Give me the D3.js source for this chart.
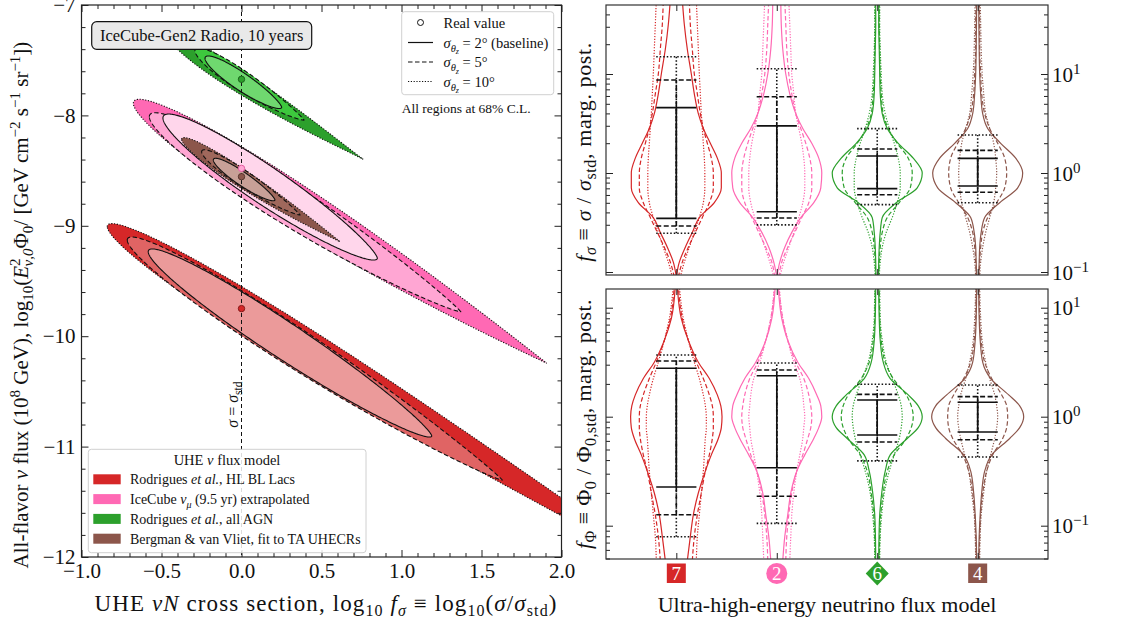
<!DOCTYPE html>
<html>
<head>
<meta charset="utf-8">
<script src="https://cdn.jsdelivr.net/npm/d3@7"></script>
<style>
  body { margin: 0; background: #fff; }
  svg text { font-family: "Liberation Serif", "DejaVu Serif", serif; fill: #111; }
</style>
</head>
<body>
<svg id="chart" width="1137" height="623"></svg>
<script>
// ---------------- data ----------------
const modelNames = ["Rodrigues et al., HL BL Lacs", "IceCube νμ (9.5 yr) extrapolated",
                    "Rodrigues et al., all AGN", "Bergman & van Vliet, fit to TA UHECRs"];
const modelIds = ["7", "2", "6", "4"];
const resolutions = ["2°", "5°", "10°"];           // angular resolution sigma_theta_z

// true (injected) values: log10 f_sigma and log10 flux at 1e8 GeV
const trueLogF = [0, 0, 0, 0];
const trueLogFlux = [-9.75, -8.48, -7.673, -8.555];

// 68% C.L. regions, per model, per resolution [2°, 5°, 10°]
// left / right extreme points (log10 f_sigma, log10 flux), vertical half-height, tail exponent
const regionLeftX  = [[-0.583, -0.714, -0.839], [-0.491, -0.576, -0.676], [-0.228, -0.291, -0.459], [-0.176, -0.249, -0.374]];
const regionLeftY  = [[-9.235, -9.129, -9.008], [-8.024, -8.012, -7.890], [-7.483, -7.414, -7.281], [-8.404, -8.329, -8.217]];
const regionRightX = [[1.189, 1.630, 2.866], [0.849, 1.370, 1.908], [0.251, 0.391, 0.761], [0.209, 0.366, 0.616]];
const regionRightY = [[-10.904, -11.303, -12.321], [-9.294, -9.778, -10.245], [-7.927, -8.042, -8.398], [-8.766, -8.902, -9.144]];
const regionHalfH  = [[0.195, 0.208, 0.212], [0.205, 0.215, 0.228], [0.094, 0.107, 0.117], [0.072, 0.086, 0.095]];
const regionTail   = [[0.6, 0.8, 1.3], [0.6, 0.8, 1.0], [0.6, 0.8, 1.1], [0.6, 0.8, 1.0]];

// marginal posteriors of f_sigma (density on a log10 f_sigma grid)
const gridSigma = [-1.05, -0.9, -0.75, -0.6, -0.45, -0.3, -0.15, 0, 0.15, 0.3, 0.45, 0.6, 0.8, 1.0, 1.25, 1.5, 1.75];
const postSigma = [
  [[0, 3, 9, 16, 23, 38, 45, 45, 41, 34, 27, 22, 18, 15, 11, 8, 6],
   [2, 6, 12, 19, 26, 33, 37, 37, 35, 31, 27, 24, 21, 18, 16, 14, 13],
   [4, 8, 13, 18, 23, 27, 28.5, 28.5, 28, 27, 26, 25, 24, 23, 22, 21, 20]],
  [[0, 3, 8, 15, 24, 37, 44, 45, 42, 35, 26, 19, 13, 9, 6, 4.5, 4],
   [2, 5, 11, 18, 25, 32, 35, 35, 33, 29, 24, 19, 15, 12, 10, 9, 8],
   [3, 7, 12, 17, 22, 26, 28, 28, 27, 25, 22, 19, 17, 15, 14, 13, 12]],
  [[1.2, 1.5, 2, 3, 5, 19, 40, 45, 36, 21, 10, 5, 3, 2.5, 2, 1.5, 1.5],
   [1.5, 2, 3, 5, 10, 22, 33, 35, 31, 20, 11, 6, 4, 3, 2.5, 2, 2],
   [2, 3, 5, 9, 15, 20, 23, 23, 21, 17, 12, 8, 5, 4, 3, 2.5, 2.5]],
  [[1, 1.5, 2, 3.5, 7, 22, 40, 45, 38, 23, 10, 5, 3, 2, 1.5, 1.2, 1],
   [1.5, 2, 3, 5, 10, 19, 27, 29, 27, 20, 12, 7, 4, 3, 2, 2, 1.5],
   [2, 3, 5, 8, 12, 16, 18, 19, 18, 16, 12, 8, 6, 4.5, 3.5, 3, 2.5]]
];
// 68% credible intervals of f_sigma [low, high]
const ciSigma = [
  [[0.348, 4.57], [0.292, 8.71], [0.246, 14.96]],
  [[0.406, 2.99], [0.351, 5.90], [0.299, 11.3]],
  [[0.695, 1.486], [0.604, 1.746], [0.479, 2.805]],
  [[0.740, 1.406], [0.638, 1.694], [0.501, 2.421]]
];

// marginal posteriors of f_Phi (density on a log10 f_Phi grid)
const gridPhi = [-1.32, -1.1, -0.9, -0.7, -0.5, -0.35, -0.2, -0.1, 0, 0.1, 0.2, 0.35, 0.5, 0.7, 0.9, 1.2];
const postPhi = [
  [[11, 14, 17, 22, 29, 35, 42, 45, 45.7, 44.5, 41, 33, 22, 12, 5, 1],
   [16, 18, 21, 25, 29, 33, 36, 37, 37, 36, 33, 27, 20, 12, 6, 2],
   [20, 21, 23, 25, 27, 28, 29, 30, 30, 29, 27, 23, 18, 12, 7, 3]],
  [[6, 8, 11, 14, 20, 28, 37, 42, 45, 44, 40, 32, 21, 11, 5, 1.5],
   [9, 10, 12, 15, 20, 26, 31, 34, 35, 34, 32, 27, 19, 11, 6, 2],
   [13, 14, 15, 17, 20, 23, 26, 27, 28, 27, 26, 23, 17, 11, 6, 2.5]],
  [[1.5, 1.8, 2.5, 4.5, 8, 13, 30, 41, 45, 41, 31, 13, 6, 3, 2, 1.5],
   [2, 2.5, 3.5, 6, 10, 17, 29, 34, 36, 34, 29, 16, 8, 4, 2.5, 2],
   [2.5, 3, 4.5, 7, 12, 17, 22, 24, 25, 24, 21, 15, 9, 5, 3, 2.5]],
  [[1, 1.5, 2.5, 4, 7, 14, 32, 42, 46, 42, 31, 13, 5, 2.5, 1.5, 1],
   [1.5, 2, 3, 5, 9, 15, 25, 29, 30, 29, 24, 14, 7, 3.5, 2, 1.5],
   [2, 2.5, 3.5, 6, 9, 13, 17, 19, 20, 19, 17, 12, 8, 4.5, 3, 2]]
];
const ciPhi = [
  [[0.2265, 2.78], [0.126, 3.24], [0.0793, 3.68]],
  [[0.340, 2.377], [0.186, 2.679], [0.105, 3.11]],
  [[0.679, 1.422], [0.586, 1.603], [0.393, 1.982]],
  [[0.724, 1.355], [0.615, 1.528], [0.427, 1.954]]
];

// tick values
const xTicksL = [-1, -0.5, 0, 0.5, 1, 1.5, 2];
const yTicksL = [-12, -11, -10, -9, -8, -7];
const logTicksR = [0.1, 1, 10];

// ---------------- styles ----------------
const baseColors = ["#d62728", "#ff69b4", "#2ca02c", "#8c564b"];
const regionFills = [
  ["#eb9a9a", "#e06464", "#d62728"],
  ["#ffd6eb", "#ffa6d3", "#ff69b4"],
  ["#6fd86f", "#3dc83d", "#2ca02c"],
  ["#c8a097", "#a0685c", "#8c564b"]
];
const dashFor = ["none", "4.5,2.5", "1.2,1.6"];
const badgeShapes = ["square", "circle", "diamond", "square"];

const svg = d3.select("#chart");
const defs = svg.append("defs");

function rich(sel, segs) {
  let cur = 0;
  segs.forEach(s => {
    const off = s.o || 0;
    const ts = sel.append("tspan").text(s.t);
    if (off !== cur) ts.attr("dy", -(off - cur));
    cur = off;
    if (s.i) ts.attr("font-style", "italic");
    if (s.s) ts.attr("font-size", s.s);
    if (s.dx) ts.attr("dx", s.dx);
  });
}

// ================= left panel =================
const PL = { x0: 81.5, x1: 561.5, y0: 5, y1: 557 };
const xL = d3.scaleLinear().domain([-1, 2]).range([PL.x0, PL.x1]);
const yL = d3.scaleLinear().domain([-12, -7]).range([PL.y1, PL.y0]);

defs.append("clipPath").attr("id", "clipL").append("rect")
  .attr("x", PL.x0).attr("y", PL.y0).attr("width", PL.x1 - PL.x0).attr("height", PL.y1 - PL.y0);

const gRegions = svg.append("g").attr("clip-path", "url(#clipL)");
const lineL = d3.line().x(d => xL(d[0])).y(d => yL(d[1]));

function regionPoints(m, r) {
  const xl = regionLeftX[m][r], yl = regionLeftY[m][r];
  const xr = regionRightX[m][r], yr = regionRightY[m][r];
  const hh = regionHalfH[m][r], a = 0.5, b = regionTail[m][r];
  const ts = a / (a + b), norm = Math.pow(ts, a) * Math.pow(1 - ts, b);
  const n = 200, up = [], lo = [];
  for (let k = 0; k <= n; k++) {
    const t = (1 - Math.cos(Math.PI * k / n)) / 2;
    const cx = xl + t * (xr - xl), cy = yl + t * (yr - yl);
    const w = hh * Math.pow(t, a) * Math.pow(1 - t, b) / norm;
    up.push([cx, cy + w]);
    lo.push([cx, cy - w]);
  }
  return up.concat(lo.reverse());
}

for (let m = 0; m < 4; m++) {
  for (let r = 2; r >= 0; r--) {
    gRegions.append("path")
      .attr("d", lineL(regionPoints(m, r)) + "Z")
      .attr("fill", regionFills[m][r])
      .attr("stroke", "#111")
      .attr("stroke-width", 1.1)
      .attr("stroke-dasharray", dashFor[r]);
  }
}

// sigma = sigma_std reference line
svg.append("line")
  .attr("x1", xL(0)).attr("x2", xL(0)).attr("y1", PL.y0).attr("y2", PL.y1)
  .attr("stroke", "#111").attr("stroke-width", 1).attr("stroke-dasharray", "4,3");
const refLbl = svg.append("text")
  .attr("transform", `translate(${xL(0) - 4},${yL(-10.62)}) rotate(-90)`)
  .attr("text-anchor", "middle").attr("font-size", 16);
rich(refLbl, [{ t: "σ", i: 1 }, { t: " = " }, { t: "σ", i: 1 }, { t: "std", o: -4, s: 11.5 }]);

// true values
for (let m = 0; m < 4; m++) {
  svg.append("circle")
    .attr("cx", xL(trueLogF[m])).attr("cy", yL(trueLogFlux[m])).attr("r", 3.2)
    .attr("fill", regionFills[m][m === 1 ? 1 : 2])
    .attr("stroke", d3.color(baseColors[m]).darker(m === 1 ? 0.3 : 1.3))
    .attr("stroke-width", 1);
}

// frame and ticks
function styleAxis(g, size) {
  g.select(".domain").remove();
  g.selectAll("line").attr("stroke", "#222");
  g.selectAll("text").attr("font-family", '"Liberation Serif", serif').attr("font-size", size).attr("fill", "#111");
}
const xMinorL = d3.range(-10, 21).map(d => d / 10).filter(d => Math.abs(d * 2 - Math.round(d * 2)) > 1e-6);
const yMinorL = d3.range(-60, -34).map(d => d / 5).filter(d => Math.abs(d - Math.round(d)) > 1e-6);

svg.append("g").attr("transform", `translate(0,${PL.y1})`)
  .call(d3.axisBottom(xL).tickValues(xTicksL).tickSizeInner(-7).tickSizeOuter(0).tickPadding(6).tickFormat(d3.format(".1f")))
  .call(g => styleAxis(g, 21));
svg.append("g").attr("transform", `translate(0,${PL.y1})`)
  .call(d3.axisBottom(xL).tickValues(xMinorL).tickSizeInner(-4).tickSizeOuter(0).tickFormat(""))
  .call(g => styleAxis(g, 21));
svg.append("g").attr("transform", `translate(0,${PL.y0})`)
  .call(d3.axisTop(xL).tickValues(xTicksL).tickSizeInner(-7).tickSizeOuter(0).tickFormat(""))
  .call(g => styleAxis(g, 21));
svg.append("g").attr("transform", `translate(0,${PL.y0})`)
  .call(d3.axisTop(xL).tickValues(xMinorL).tickSizeInner(-4).tickSizeOuter(0).tickFormat(""))
  .call(g => styleAxis(g, 21));
svg.append("g").attr("transform", `translate(${PL.x0},0)`)
  .call(d3.axisLeft(yL).tickValues(yTicksL).tickSizeInner(-7).tickSizeOuter(0).tickPadding(6).tickFormat(d3.format("d")))
  .call(g => styleAxis(g, 21));
svg.append("g").attr("transform", `translate(${PL.x0},0)`)
  .call(d3.axisLeft(yL).tickValues(yMinorL).tickSizeInner(-4).tickSizeOuter(0).tickFormat(""))
  .call(g => styleAxis(g, 21));
svg.append("g").attr("transform", `translate(${PL.x1},0)`)
  .call(d3.axisRight(yL).tickValues(yTicksL).tickSizeInner(-7).tickSizeOuter(0).tickFormat(""))
  .call(g => styleAxis(g, 21));
svg.append("g").attr("transform", `translate(${PL.x1},0)`)
  .call(d3.axisRight(yL).tickValues(yMinorL).tickSizeInner(-4).tickSizeOuter(0).tickFormat(""))
  .call(g => styleAxis(g, 21));
svg.append("rect").attr("x", PL.x0).attr("y", PL.y0).attr("width", PL.x1 - PL.x0).attr("height", PL.y1 - PL.y0)
  .attr("fill", "none").attr("stroke", "#222").attr("stroke-width", 1.2);

// title box
svg.append("rect").attr("x", 91.7).attr("y", 21.7).attr("width", 220).attr("height", 27.6).attr("rx", 5)
  .attr("fill", "#e9e9e9").attr("stroke", "#111").attr("stroke-width", 1.2);
svg.append("text").attr("x", 201.7).attr("y", 41).attr("text-anchor", "middle").attr("font-size", 16.5)
  .text("IceCube-Gen2 Radio, 10 years");

// line-style legend
const lg = svg.append("g");
lg.append("rect").attr("x", 401.7).attr("y", 11.7).attr("width", 152).attr("height", 83).attr("rx", 3)
  .attr("fill", "#fff").attr("fill-opacity", 0.85).attr("stroke", "#d0d0d0");
lg.append("circle").attr("cx", 420.5).attr("cy", 22.5).attr("r", 3).attr("fill", "none").attr("stroke", "#111");
lg.append("text").attr("x", 443.5).attr("y", 27.5).attr("font-size", 14.5).text("Real value");
resolutions.forEach((res, r) => {
  const y = 42.5 + r * 19.5;
  lg.append("line").attr("x1", 408).attr("x2", 433).attr("y1", y).attr("y2", y)
    .attr("stroke", "#111").attr("stroke-width", 1.2).attr("stroke-dasharray", dashFor[r]);
  const t = lg.append("text").attr("x", 443.5).attr("y", y + 5).attr("font-size", 14.5);
  rich(t, [{ t: "σ", i: 1 }, { t: "θ", i: 1, o: -4, s: 10.5 }, { t: "z", i: 1, o: -6.5, s: 8 },
           { t: " = " + res + (r === 0 ? " (baseline)" : ""), o: 0 }]);
});
svg.append("text").attr("x", 401.7).attr("y", 112.5).attr("font-size", 13.5).text("All regions at 68% C.L.");

// model legend
const ml = svg.append("g");
ml.append("rect").attr("x", 88.3).attr("y", 449.3).attr("width", 277.7).attr("height", 103.4).attr("rx", 3)
  .attr("fill", "#fff").attr("fill-opacity", 0.85).attr("stroke", "#d0d0d0");
const mlt = ml.append("text").attr("x", 227).attr("y", 464.5).attr("text-anchor", "middle").attr("font-size", 14.5);
rich(mlt, [{ t: "UHE " }, { t: "ν", i: 1 }, { t: " flux model" }]);
const legendSegs = [
  [{ t: "Rodrigues " }, { t: "et al.", i: 1 }, { t: ", HL BL Lacs" }],
  [{ t: "IceCube " }, { t: "ν", i: 1 }, { t: "μ", i: 1, o: -3.5, s: 10 }, { t: " (9.5 yr) extrapolated", o: 0 }],
  [{ t: "Rodrigues " }, { t: "et al.", i: 1 }, { t: ", all AGN" }],
  [{ t: "Bergman & van Vliet, fit to TA UHECRs" }]
];
modelNames.forEach((nm, m) => {
  const y = 479.3 + m * 19.8;
  ml.append("rect").attr("x", 93.3).attr("y", y - 5).attr("width", 27.4).attr("height", 10)
    .attr("fill", baseColors[m]);
  const t = ml.append("text").attr("x", 130).attr("y", y + 5).attr("font-size", 14);
  rich(t, legendSegs[m]);
});

// axis labels
const xlab = svg.append("text").attr("x", 326).attr("y", 611).attr("text-anchor", "middle")
  .attr("font-size", 23).attr("letter-spacing", 1.1);
rich(xlab, [{ t: "UHE " }, { t: "νN", i: 1 }, { t: " cross section, log" }, { t: "10", o: -5, s: 16 },
            { t: " f", i: 1, o: 0 }, { t: "σ", i: 1, o: -5, s: 16 }, { t: " ≡ log", o: 0 }, { t: "10", o: -5, s: 16 },
            { t: "(", o: 0 }, { t: "σ", i: 1 }, { t: "/" }, { t: "σ", i: 1 }, { t: "std", o: -5, s: 16 }, { t: ")", o: 0 }]);
const ylab = svg.append("text").attr("transform", "translate(28,305) rotate(-90)").attr("text-anchor", "middle").attr("font-size", 21);
rich(ylab, [{ t: "All-flavor " }, { t: "ν", i: 1 }, { t: " flux (10" }, { t: "8", o: 8, s: 15 }, { t: " GeV), log", o: 0 },
            { t: "10", o: -5, s: 15 }, { t: "(", o: 0 }, { t: "E", i: 1 }, { t: "2", o: 8, s: 15 },
            { t: "ν,0", i: 1, o: -5, s: 15, dx: -8 }, { t: "Φ", o: 0 }, { t: "0", o: -5, s: 15 },
            { t: "/ [GeV cm", o: 0 }, { t: "−2", o: 8, s: 15 }, { t: " s", o: 0 }, { t: "−1", o: 8, s: 15 },
            { t: " sr", o: 0 }, { t: "−1", o: 8, s: 15 }, { t: "])", o: 0 }]);

// ================= right panels =================
const xR = d3.scaleLinear().domain([-0.7, 3.7]).range([606, 1048]);
const widthScale = d3.scaleLinear().domain([0, 45.7]).range([0, 0.455]);
const panels = [
  { y0: 5, y1: 275, lo: Math.pow(10, -1.0303), hi: Math.pow(10, 1.697), grid: gridSigma, post: postSigma, ci: ciSigma, id: "clipA" },
  { y0: 289, y1: 559, lo: Math.pow(10, -1.3055), hi: Math.pow(10, 1.1716), grid: gridPhi, post: postPhi, ci: ciPhi, id: "clipB" }
];
const capDash = ["none", "5,2.5", "1.5,2"];

panels.forEach(P => {
  const y = d3.scaleLog().domain([P.lo, P.hi]).range([P.y1, P.y0]);
  P.y = y;
  defs.append("clipPath").attr("id", P.id).append("rect")
    .attr("x", 606).attr("y", P.y0).attr("width", 442).attr("height", P.y1 - P.y0);
  const g = svg.append("g").attr("clip-path", `url(#${P.id})`);
  const line = d3.line().x(d => d[0]).y(d => d[1]).curve(d3.curveMonotoneY);

  for (let m = 0; m < 4; m++) {
    for (let r = 2; r >= 0; r--) {
      [1, -1].forEach(side => {
        const pts = P.grid.map((gv, k) => [xR(m + side * widthScale(P.post[m][r][k])), y(Math.pow(10, gv))]);
        g.append("path").attr("d", line(pts))
          .attr("fill", "none").attr("stroke", baseColors[m]).attr("stroke-width", 1.2)
          .attr("stroke-dasharray", dashFor[r]);
      });
    }
  }
  // credible intervals
  for (let m = 0; m < 4; m++) {
    for (let r = 2; r >= 0; r--) {
      const [lo, hi] = P.ci[m][r];
      const st = el => el.attr("stroke", "#111").attr("stroke-width", 1.6).attr("stroke-dasharray", capDash[r]);
      st(g.append("line").attr("x1", xR(m)).attr("x2", xR(m)).attr("y1", y(lo)).attr("y2", y(hi)));
      [lo, hi].forEach(v => st(g.append("line").attr("x1", xR(m - 0.2)).attr("x2", xR(m + 0.2)).attr("y1", y(v)).attr("y2", y(v))));
    }
  }

  // axes
  const minors = [];
  [0.01, 0.1, 1, 10].forEach(dec => { for (let k = 2; k <= 9; k++) { const v = dec * k; if (v > P.lo && v < P.hi) minors.push(v); } });
  const noLbl = () => "";
  svg.append("g").attr("transform", `translate(606,0)`)
    .call(d3.axisLeft(y).tickValues(logTicksR).tickSizeInner(-7).tickSizeOuter(0).tickFormat(noLbl)).call(g2 => styleAxis(g2, 21));
  svg.append("g").attr("transform", `translate(606,0)`)
    .call(d3.axisLeft(y).tickValues(minors).tickSizeInner(-4).tickSizeOuter(0).tickFormat(noLbl)).call(g2 => styleAxis(g2, 21));
  svg.append("g").attr("transform", `translate(1048,0)`)
    .call(d3.axisRight(y).tickValues(logTicksR).tickSizeInner(-7).tickSizeOuter(0).tickFormat(noLbl)).call(g2 => styleAxis(g2, 21));
  svg.append("g").attr("transform", `translate(1048,0)`)
    .call(d3.axisRight(y).tickValues(minors).tickSizeInner(-4).tickSizeOuter(0).tickFormat(noLbl)).call(g2 => styleAxis(g2, 21));
  svg.append("g").attr("transform", `translate(0,${P.y1})`)
    .call(d3.axisBottom(xR).tickValues([0, 1, 2, 3]).tickSizeInner(-6).tickSizeOuter(0).tickFormat(noLbl)).call(g2 => styleAxis(g2, 21));
  svg.append("g").attr("transform", `translate(0,${P.y0})`)
    .call(d3.axisTop(xR).tickValues([0, 1, 2, 3]).tickSizeInner(-6).tickSizeOuter(0).tickFormat(noLbl)).call(g2 => styleAxis(g2, 21));
  // decade labels on the right
  logTicksR.forEach(v => {
    const e = Math.round(Math.log10(v));
    const t = svg.append("text").attr("x", 1052).attr("y", y(v) + 7.5).attr("font-size", 21);
    rich(t, [{ t: "10" }, { t: e < 0 ? "−" + (-e) : String(e), o: 8, s: 15 }]);
  });
  svg.append("rect").attr("x", 606).attr("y", P.y0).attr("width", 442).attr("height", P.y1 - P.y0)
    .attr("fill", "none").attr("stroke", "#333").attr("stroke-width", 1.2);
});

// right-panel axis titles
const ylabA = svg.append("text").attr("transform", "translate(591,152) rotate(-90)").attr("text-anchor", "middle")
  .attr("font-size", 22).attr("letter-spacing", 0.6);
rich(ylabA, [{ t: "f", i: 1 }, { t: "σ", i: 1, o: -5, s: 16 }, { t: " ≡ ", o: 0 }, { t: "σ", i: 1 }, { t: " / " },
             { t: "σ", i: 1 }, { t: "std", o: -5, s: 16 }, { t: ", marg. post.", o: 0 }]);
const ylabB = svg.append("text").attr("transform", "translate(591,424) rotate(-90)").attr("text-anchor", "middle")
  .attr("font-size", 22).attr("letter-spacing", 0.4);
rich(ylabB, [{ t: "f", i: 1 }, { t: "Φ", o: -5, s: 16 }, { t: " ≡ Φ", o: 0 }, { t: "0", o: -5, s: 16 },
             { t: " / Φ", o: 0 }, { t: "0,std", o: -5, s: 16 }, { t: ", marg. post.", o: 0 }]);

// model badges under the bottom panel
const by = 573.5;
modelIds.forEach((id, m) => {
  const cx = xR(m), c = baseColors[m];
  if (badgeShapes[m] === "square") {
    svg.append("rect").attr("x", cx - 9.5).attr("y", by - 10).attr("width", 19).attr("height", 19.5).attr("fill", c);
  } else if (badgeShapes[m] === "circle") {
    svg.append("circle").attr("cx", cx).attr("cy", by).attr("r", 10.5).attr("fill", c);
  } else {
    svg.append("path").attr("d", `M${cx},${by - 12}L${cx + 11.5},${by}L${cx},${by + 12}L${cx - 11.5},${by}Z`).attr("fill", c);
  }
  svg.append("text").attr("x", cx).attr("y", by + 6.5).attr("text-anchor", "middle").attr("font-size", 19)
    .style("fill", "#fff").text(id);
});
svg.append("text").attr("x", 827).attr("y", 612).attr("text-anchor", "middle").attr("font-size", 22)
  .text("Ultra-high-energy neutrino flux model");
</script>
</body>
</html>
